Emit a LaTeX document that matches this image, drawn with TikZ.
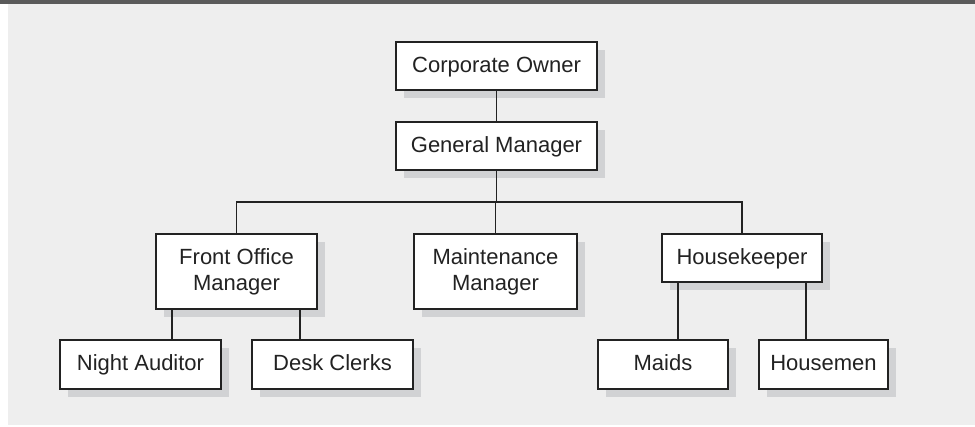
\documentclass[tikz,border=0pt]{standalone}
\usepackage{fontspec}
\setmainfont{Liberation Sans}
\usetikzlibrary{shadows}
\definecolor{bggray}{HTML}{EEEEEE}
\definecolor{bargray}{HTML}{5A5A5A}
\definecolor{shadowgray}{HTML}{D1D2D4}
\definecolor{ink}{HTML}{222222}
\tikzset{
  orgbox/.style={draw=ink, line width=1.8pt, fill=white, inner sep=0pt,
    align=center, text=ink, font=\fontsize{22}{26}\selectfont,
    drop shadow={shadow xshift=8pt, shadow yshift=-8pt, fill=shadowgray, opacity=1}},
  onebox/.style={orgbox, text height=15.8pt, text depth=3pt},
  link/.style={draw=ink, line width=1.5pt}
}
\begin{document}
\begin{tikzpicture}[x=1pt,y=-1pt]
\useasboundingbox (0,0) rectangle (975,426);
\fill[white] (0,0) rectangle (975,426);
\fill[bggray] (8,0) rectangle (975,425);
\fill[bargray] (0,0) rectangle (975,4);

\node[onebox, minimum width=201pt, minimum height=48pt] (co) at (496.5,66) {Corporate Owner};
\node[onebox, minimum width=201pt, minimum height=48pt] (gm) at (496.5,146) {General Manager};
\node[orgbox, minimum width=161pt, minimum height=75pt] (fom) at (236.5,271.5) {Front Office\\Manager};
\node[orgbox, minimum width=163pt, minimum height=75pt] (mm) at (495.5,271.5) {Maintenance\\Manager};
\node[onebox, minimum width=160pt, minimum height=48pt] (hk) at (742,258) {Housekeeper};
\node[onebox, minimum width=161pt, minimum height=49pt] (na) at (140.5,364.5) {Night Auditor};
\node[onebox, minimum width=161pt, minimum height=49pt] (dc) at (332.5,364.5) {Desk Clerks};
\node[onebox, minimum width=130pt, minimum height=49pt] (ma) at (663,364.5) {Maids};
\node[onebox, minimum width=129pt, minimum height=49pt] (hm) at (823.5,364.5) {Housemen};

\coordinate (bar) at (gm.south |- 0,202);
\coordinate (fna) at (172,0);
\coordinate (fdc) at (300,0);
\coordinate (hma) at (678,0);
\coordinate (hhm) at (806,0);

\draw[link] (co.south) -- (gm.north);
\draw[link] (gm.south) -- (bar);
\draw[link] (fom.north) |- (bar) -| (hk.north);
\draw[link] (bar) -| (mm.north);
\draw[link] (fom.south -| fna) -- (na.north -| fna);
\draw[link] (fom.south -| fdc) -- (dc.north -| fdc);
\draw[link] (hk.south -| hma) -- (ma.north -| hma);
\draw[link] (hk.south -| hhm) -- (hm.north -| hhm);
\end{tikzpicture}
\end{document}
